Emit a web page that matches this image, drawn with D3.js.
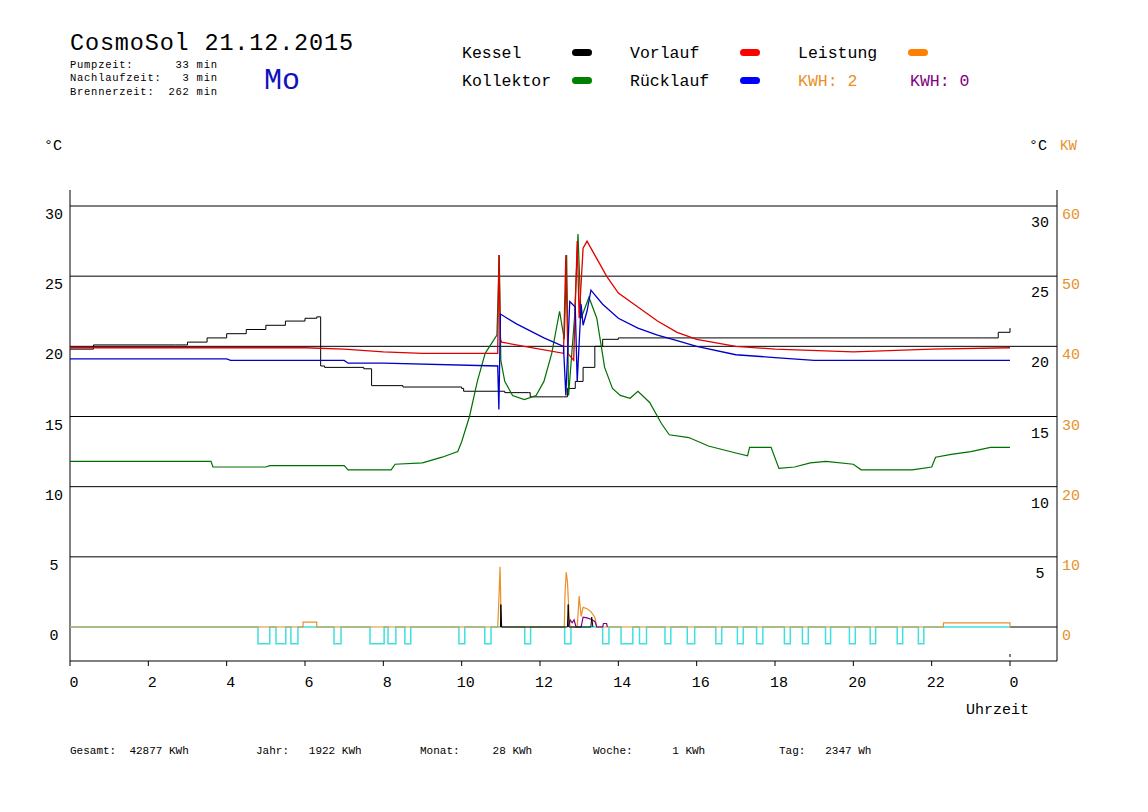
<!DOCTYPE html>
<html><head><meta charset="utf-8">
<script src="https://cdn.jsdelivr.net/npm/d3@7"></script>
<style>body{margin:0;background:#fff}svg text{font-family:"Liberation Mono","DejaVu Sans Mono",monospace}</style>
</head><body><svg id="c" width="1148" height="812"></svg>
<script>
const xTicks=[0,2,4,6,8,10,12,14,16,18,20,22,24];
const xTickLabels=["0","2","4","6","8","10","12","14","16","18","20","22","0"];
const yTicks=[0,5,10,15,20,25,30];
const kwTicks=[0,10,20,30,40,50,60];
const kessel=[[0,19.8],[0.6,20.1],[2.7,20.1],[3.0,20.3],[3.5,20.6],[4.0,20.9],[4.5,21.2],[5.0,21.5],[5.5,21.8],[6.0,22.0],[6.3,22.1],[6.4,18.6],[6.5,18.5],[7.5,18.4],[7.7,17.2],[8.5,17.1],[10.0,17.0],[10.05,16.8],[10.9,16.8],[11.1,16.7],[11.7,16.7],[11.75,16.4],[12.6,16.4],[12.7,17.0],[12.9,17.5],[13.1,18.5],[13.4,20.0],[13.6,20.5],[14.0,20.6],[23.3,20.6],[23.7,21.0],[24,21.3]];
const vorlauf=[[0,19.9],[6.0,19.9],[7.0,19.8],[8.0,19.6],[9.0,19.5],[10.92,19.5],[10.95,26.5],[10.99,20.5],[11.02,20.3],[11.6,20.0],[12.6,19.5],[12.66,26.5],[12.71,19.5],[12.86,19.0],[12.95,27.5],[13.0,22],[13.1,27.0],[13.2,27.5],[13.4,26.5],[13.7,25.0],[14.0,23.8],[14.5,22.8],[15.0,21.8],[15.5,21.0],[16.0,20.5],[17.0,20.0],[18.0,19.8],[20.0,19.6],[22.0,19.8],[24,19.9]];
const ruecklauf=[[0,19.1],[4.0,19.1],[4.1,19.0],[7.0,19.0],[7.1,18.8],[8.0,18.8],[10.92,18.6],[10.95,15.5],[10.99,22.3],[11.4,21.6],[12.1,20.6],[12.6,20.0],[12.66,16.5],[12.76,23.2],[12.9,22.8],[12.95,17.5],[13.05,23.0],[13.1,21.5],[13.2,22.5],[13.3,24.0],[13.6,23.0],[14.0,22.0],[14.5,21.3],[15.0,20.8],[15.5,20.4],[16.0,20.0],[17.0,19.4],[18.0,19.2],[19.0,19.0],[24,19.0]];
const kollektor=[[0,11.8],[3.6,11.8],[3.65,11.4],[5.0,11.4],[5.1,11.5],[7.0,11.5],[7.1,11.2],[8.2,11.2],[8.3,11.6],[9.0,11.7],[9.5,12.1],[9.9,12.5],[10.0,13.2],[10.2,15.0],[10.4,17.5],[10.6,19.5],[10.9,20.8],[10.96,26.5],[11.0,19.0],[11.1,17.5],[11.3,16.5],[11.6,16.2],[11.9,16.5],[12.1,17.5],[12.3,19.5],[12.5,22.5],[12.62,20.5],[12.68,26.5],[12.73,16.5],[12.88,22.0],[12.97,28.0],[13.05,22.0],[13.25,23.5],[13.45,22.0],[13.65,18.5],[13.85,17.0],[14.05,16.5],[14.3,16.3],[14.5,16.8],[14.8,16.0],[15.1,14.5],[15.3,13.7],[15.8,13.5],[16.3,12.9],[17.0,12.4],[17.3,12.2],[17.35,12.8],[17.9,12.8],[18.1,11.3],[18.5,11.4],[18.9,11.7],[19.3,11.8],[20.0,11.6],[20.2,11.2],[21.5,11.2],[22.0,11.4],[22.1,12.1],[22.5,12.3],[23.0,12.5],[23.5,12.8],[24,12.8]];
const pumpDips=[[4.8,5.1],[5.26,5.51],[5.64,5.82],[6.74,6.92],[7.66,8.02],[8.12,8.32],[8.55,8.7],[9.93,10.08],[10.59,10.75],[11.61,11.76],[12.63,12.79],[13.6,13.76],[14.07,14.37],[14.54,14.72],[15.19,15.34],[15.76,15.95],[16.49,16.64],[17.04,17.19],[17.53,17.69],[18.24,18.39],[18.7,18.85],[19.29,19.42],[19.9,20.05],[20.43,20.57],[21.12,21.26],[21.66,21.8]];
const leistung=[[0,0],[5.95,0],[5.95,0.7],[6.3,0.7],[6.3,0],[10.92,0],[10.94,2.5],[10.96,5.5],[10.98,8.6],[11.0,3],[11.02,0],[12.62,0],[12.64,5],[12.67,7.8],[12.7,6.5],[12.74,2],[12.77,0],[12.95,0],[13.0,4.4],[13.05,1.5],[13.1,2.8],[13.2,2.6],[13.3,2.2],[13.4,1.4],[13.45,0],[22.3,0],[22.3,0.6],[24,0.6],[24,0]];
const kwh0=[[12.72,0],[12.77,1.0],[12.82,0.6],[12.87,1.0],[12.92,0],[13.05,0],[13.1,1.4],[13.2,1.3],[13.3,1.1],[13.4,0.8],[13.45,0],[13.6,0],[13.62,0.5],[13.7,0.5],[13.72,0]];
const kesselPower=[[10.99,0],[11.0,1.6],[11.02,0],[12.7,0],[12.72,1.6],[12.74,0],[13.3,0],[13.32,0.7],[13.35,0]];

const svg=d3.select("#c");
const x=d3.scaleLinear().domain([0,24]).range([70,1010]);
const y=d3.scaleLinear().domain([0,30]).range([627,206]);
const yk=d3.scaleLinear().domain([0,60]).range([627,206]);
const L=70,R=1057,T=190,B=661;
const orange="#e8902a";
svg.selectAll(".g").data(yTicks.slice(1)).join("line").attr("x1",L).attr("x2",R).attr("y1",d=>y(d)).attr("y2",d=>y(d)).attr("stroke","#000");
svg.append("line").attr("x1",1010).attr("x2",R).attr("y1",y(0)).attr("y2",y(0)).attr("stroke","#000");
svg.append("line").attr("x1",L).attr("x2",L).attr("y1",T).attr("y2",B).attr("stroke","#000");
svg.append("line").attr("x1",R).attr("x2",R).attr("y1",T).attr("y2",B).attr("stroke","#000");
svg.append("line").attr("x1",L).attr("x2",R).attr("y1",B).attr("y2",B).attr("stroke","#000");
svg.append("line").attr("x1",1010).attr("x2",1010).attr("y1",654).attr("y2",657).attr("stroke","#000");
svg.selectAll(".xt").data(xTicks).join("line").attr("x1",d=>x(d)).attr("x2",d=>x(d)).attr("y1",B).attr("y2",B+5).attr("stroke","#000");
svg.selectAll(".xl").data(xTicks).join("text").attr("x",d=>x(d)+4).attr("y",B+26).attr("text-anchor","middle").attr("font-size",15).text((d,i)=>xTickLabels[i]);
svg.selectAll(".yl").data(yTicks).join("text").attr("x",54).attr("y",d=>y(d)+13).attr("text-anchor","middle").attr("font-size",15).text(d=>d);
svg.selectAll(".yr").data(yTicks.slice(1)).join("text").attr("x",1040).attr("y",d=>y(d)+21).attr("text-anchor","middle").attr("font-size",15).text(d=>d);
svg.selectAll(".yk").data(kwTicks).join("text").attr("x",1062).attr("y",d=>yk(d)+13).attr("font-size",15).attr("fill",orange).text(d=>d);
svg.append("text").attr("x",44).attr("y",150).attr("font-size",15).text("°C");
svg.append("text").attr("x",1029).attr("y",150).attr("font-size",15).text("°C");
svg.append("text").attr("x",1060).attr("y",150).attr("font-size",14).attr("fill",orange).text("KW");
svg.append("text").attr("x",966).attr("y",714).attr("font-size",15).text("Uhrzeit");
const line=d3.line().x(d=>x(d[0])).y(d=>y(d[1]));
const kline=d3.line().x(d=>x(d[0])).y(d=>yk(d[1]));
const stepl=d3.line().x(d=>x(d[0])).y(d=>y(d[1])).curve(d3.curveStepAfter);
const pump=[[0,0]];pumpDips.forEach(([a,b])=>{pump.push([a,0],[a,-1.2],[b,-1.2],[b,0]);});pump.push([24,0]);
svg.append("path").attr("d",line(pump)).attr("fill","none").attr("stroke","#40e0e0").attr("stroke-width",1.5);
svg.append("path").attr("d",kline(leistung)).attr("fill","none").attr("stroke",orange).attr("stroke-width",1.2);
svg.append("path").attr("d",kline(kwh0)).attr("fill","none").attr("stroke","#800080").attr("stroke-width",1.2);
svg.append("path").attr("d",line(kesselPower)).attr("fill","none").attr("stroke","#000");
svg.append("path").attr("d",stepl(kessel)).attr("fill","none").attr("stroke","#000");
svg.append("path").attr("d",line(kollektor)).attr("fill","none").attr("stroke","#007000").attr("stroke-width",1.2);
svg.append("path").attr("d",line(vorlauf)).attr("fill","none").attr("stroke","#e00000").attr("stroke-width",1.3);
svg.append("path").attr("d",line(ruecklauf)).attr("fill","none").attr("stroke","#0000c8").attr("stroke-width",1.3);
svg.append("text").attr("x",70).attr("y",50).attr("font-size",23.5).attr("textLength",283).text("CosmoSol 21.12.2015");
[["Pumpzeit:      33 min",68],["Nachlaufzeit:   3 min",81],["Brennerzeit:  262 min",95]].forEach(([t,yy])=>svg.append("text").attr("x",70).attr("y",yy).attr("font-size",10.5).attr("textLength",147).style("white-space","pre").text(t));
svg.append("text").attr("x",264).attr("y",89).attr("font-size",30).attr("fill","#1010c0").text("Mo");
const leg=[["Kessel",462,58,"#000"],["Kollektor",462,86,"#008000"],["Vorlauf",630,58,"#ff0000"],["Rücklauf",630,86,"#0000ff"],["Leistung",798,58,"#ff8000"]];
leg.forEach(([t,xx,yy,c])=>{svg.append("text").attr("x",xx).attr("y",yy).attr("font-size",16.5).text(t);
 svg.append("rect").attr("x",xx+110).attr("y",yy-9).attr("width",20).attr("height",7).attr("rx",3.5).attr("fill",c);});
svg.append("text").attr("x",798).attr("y",86).attr("font-size",16.5).attr("fill",orange).text("KWH: 2");
svg.append("text").attr("x",910).attr("y",86).attr("font-size",16.5).attr("fill","#800080").text("KWH: 0");
const footer=[["Gesamt:  42877 KWh",70],["Jahr:   1922 KWh",256],["Monat:     28 KWh",420],["Woche:      1 KWh",593],["Tag:   2347 Wh",779]];
footer.forEach(([t,xx])=>svg.append("text").attr("x",xx).attr("y",754).attr("font-size",11).style("white-space","pre").text(t));
</script></body></html>
